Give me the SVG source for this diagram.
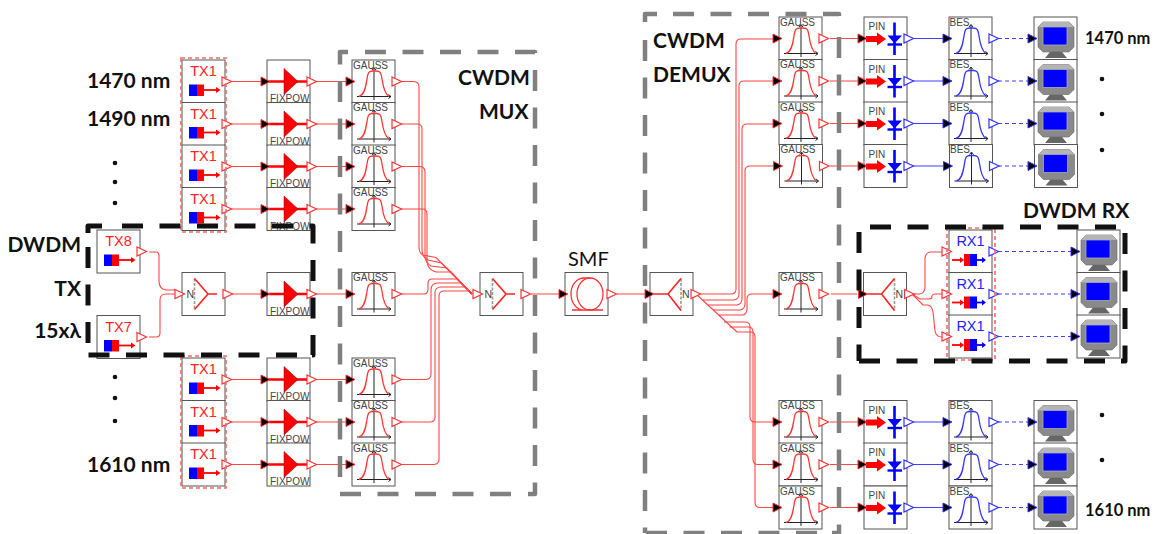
<svg xmlns="http://www.w3.org/2000/svg" width="1161" height="534" viewBox="0 0 1161 534">
<style>
.lbl{font-family:"Lato","Open Sans",sans-serif;font-weight:700;fill:#111}
.box{fill:#fff;stroke:#555;stroke-width:1}
.sm{font-family:"Liberation Sans",Arial,sans-serif;font-size:10px;fill:#444}
.big{font-family:"Liberation Sans",Arial,sans-serif;font-size:14.5px;text-anchor:middle}
.r{fill:#f22}.b{fill:#22f}
.lr{fill:none;stroke:#ff4545;stroke-width:1.1}
.lb{fill:none;stroke:#4040ff;stroke-width:1.1}
.ld{fill:none;stroke:#4040ff;stroke-width:1.1;stroke-dasharray:4 3}
.fg{fill:none;stroke:#808080;stroke-width:4.5;stroke-dasharray:21 16.5;stroke-linejoin:round}
.fk{fill:none;stroke:#111;stroke-width:5;stroke-dasharray:21 16.5;stroke-linejoin:round}
.fp{fill:none;stroke:#f66;stroke-width:1.6;stroke-dasharray:4 3}
.pw{fill:#fff;stroke:#f33;stroke-width:1.2}
.pwb{fill:#fff;stroke:#33f;stroke-width:1.2}
.pk{fill:#000;stroke:#f33;stroke-width:1}
.pkb{fill:#000;stroke:#33f;stroke-width:1}
.gr{fill:none;stroke:#f33;stroke-width:1.3}
.gb{fill:none;stroke:#33f;stroke-width:1.3}
.ax{fill:none;stroke:#222;stroke-width:1}
</style>
<defs>
<path id="pout" d="M0-4.5L9.5 0L0 4.5Z"/>
<path id="pin" d="M0-4.5L9 0L0 4.5Z"/>
<g id="axes"><path class="ax" d="M5 36.5H39M36.5 34.5L39 36.5L36.5 38.5M22 8V40M20 10L22 7.5L24 10"/></g>
<g id="tx"><rect class="box" width="43" height="43"/><rect x="7" y="24.5" width="8" height="11.5" fill="#00f"/><rect x="15" y="24.5" width="7" height="11.5" fill="#f00"/><path d="M22 30H35" stroke="#f00" stroke-width="1.8"/><path d="M34 27L38.5 30L34 33Z" fill="#f00"/><use href="#pout" class="pw" x="40" y="21.5"/></g>
<g id="fix"><rect class="box" width="43" height="43"/><path d="M2 21.5H42" stroke="#f00" stroke-width="2.6"/><path d="M17 8.5L31 21.5L17 34.5Z" fill="#f00" stroke="#700" stroke-width=".5"/><use href="#pin" class="pk" x="-6" y="21.5"/><use href="#pout" class="pw" x="40" y="21.5"/></g>
<g id="gauss"><rect class="box" width="43" height="43"/><use href="#axes"/><path class="gr" d="M7 36.5C13 35 14 25 15 19C16 12 17 11 21 11H24C28 11 29 12 30 19C31 26 33 34 37 36.5"/><use href="#pin" class="pk" x="-6" y="21.5"/><use href="#pout" class="pw" x="40" y="21.5"/></g>
<g id="bes"><rect class="box" width="43" height="43"/><use href="#axes"/><path class="gb" d="M7 36.5C13 35 14 25 15 19C16 12 17 11 21 11H24C28 11 29 12 30 19C31 26 33 34 37 36.5"/><use href="#pin" class="pkb" x="-6" y="21.5"/><use href="#pout" class="pwb" x="40" y="21.5"/></g>
<g id="comb"><rect class="box" width="43" height="43"/><path d="M12.5 6V37" stroke="#999" stroke-width="1.6" stroke-dasharray="3 1.5"/><path d="M12.5 6L26 21.5L12.5 37M26 21.5H35" fill="none" stroke="#f22" stroke-width="1.6"/><use href="#pout" class="pw" x="-7" y="21.5"/><use href="#pout" class="pw" x="41" y="21.5"/></g>
<g id="split"><rect class="box" width="43" height="43"/><path d="M31 6V38" stroke="#999" stroke-width="1.6" stroke-dasharray="3 1.5"/><path d="M4 21.5H18M31 6L18 21.5L31 38" fill="none" stroke="#f22" stroke-width="1.6"/><use href="#pin" class="pk" x="-5" y="21.5"/><use href="#pout" class="pw" x="41" y="21.5"/></g>
<g id="pind"><rect class="box" width="43" height="43"/><path d="M2 19H13V15.5L22 22L13 28.5V25H2Z" fill="#f00"/><path d="M30.5 5.5V38" stroke="#00f" stroke-width="2.6"/><path d="M23.5 18.5H38L30.5 26.5Z" fill="#00f"/><path d="M23.5 27.5H38" stroke="#00f" stroke-width="2.4"/><use href="#pin" class="pk" x="-6" y="21.5"/><use href="#pout" class="pwb" x="40" y="21.5"/></g>
<g id="mon"><rect class="box" width="43" height="43"/><path d="M16 35H28L33 41H11Z" fill="#666"/><path d="M9 5H35L40 10V30L35 35H9L4 30V10Z" fill="#8a8a8a" stroke="#666" stroke-width=".6"/><path d="M9 5H35L40 10H4Z" fill="#b5b5b5"/><rect x="9" y="10" width="24" height="18" fill="#00f" stroke="#aab" stroke-width=".8"/></g>
<g id="rx"><rect class="box" width="43" height="43"/><path d="M3 30H14" stroke="#f00" stroke-width="1.8"/><path d="M11 27L15 30L11 33Z" fill="#f00"/><rect x="15" y="24" width="6" height="12" fill="#f00"/><rect x="21" y="24" width="7" height="12" fill="#00f"/><path d="M28 30H35" stroke="#00f" stroke-width="1.8"/><path d="M33 27L37 30L33 33Z" fill="#00f"/><use href="#pout" class="pw" x="-7" y="21.5"/><use href="#pout" class="pwb" x="40" y="21.5"/></g>
</defs>

<g id="connectors">
<path class="lr" d="M231 81.5H346M231 124H346M231 166.5H346M231 209H346M231 294H261M310 294H346M231 379.5H261M310 379.5H346M231 422H261M310 422H346M231 464.5H261M310 464.5H346"/>
<path class="lr" d="M149 252H156Q159 252 159 256V281Q159 289 166 290H175"/>
<path class="lr" d="M149 337H156Q160 337 160 333V300Q160 294 166 294H175"/>
<path class="lr" d="M401 81.5H414Q419 82 419 87V247Q419 253 423 255L436 257.5L472 294"/>
<path class="lr" d="M401 124H417Q422 124 422 129V250Q422 257 428 260L441.500 263L472 294"/>
<path class="lr" d="M401 166.500H420Q425 167 425 172V256Q425 262 431 266L447 268L472 294"/>
<path class="lr" d="M401 209H422Q427 209 427 214V262Q428 270 436 272H451L472 294"/>
<path class="lr" d="M401 294H424Q428 294 428 289V283Q428 279 432 279H457L472 294"/>
<path class="lr" d="M401 379.5H426Q431 379 431 374V290Q431 283 438 283H461L472 294"/>
<path class="lr" d="M401 422H430Q435 422 435 417V293Q435 287 441 287H465L472 294"/>
<path class="lr" d="M401 464.500H434Q439 464 439 459V296Q439 291 444 291H469L472 294"/>
<path class="lr" d="M531 294H559M617 294H645"/>
<path class="lr" d="M700 294H731Q736 294 736 289V44Q736 39 741 39H773"/>
<path class="lr" d="M703 300H734Q739 299 739 294V86Q739 81 744 81H773"/>
<path class="lr" d="M708 305H737Q742 304 742 299V129Q742 124 747 124H773"/>
<path class="lr" d="M713 310H740Q745 309 745 304V171Q745 166 750 166H773"/>
<path class="lr" d="M696 294L737 332M718 315H743Q747 314 747 309V299Q747 294 752 294H773"/>
<path class="lr" d="M724 322H745Q750 322 750 327V417Q750 422 755 422H773"/>
<path class="lr" d="M729.500 327H748Q753 327 753 332V459Q753 464.500 758 464.500H773"/>
<path class="lr" d="M737 332H751Q755 332 755 337V502Q755 507.500 760 507.500H773"/>
<path class="lr" d="M830 38.500H858M830 81H858M830 123.500H858M830 166H858M831 294H857M830 422H858M830 464.500H858M830 507.500H858"/>
<path class="lb" d="M913 38.500H943M913 81H943M913 123.500H943M913 166H943M913 422H943M913 464.500H943M913 507.500H943"/>
<path class="ld" d="M998 38.500H1028M998 81H1028M998 123.500H1028M998 166H1028M998 422H1028M998 464.500H1028M998 507.500H1028M998 251.500H1071M998 294H1071M998 336.500H1071"/>
<path class="lr" d="M913 294H919Q924 294 925 288V258Q926 252 931 252H942"/>
<path class="lr" d="M912 294L920 299H929Q932 299 932 296Q932 294 936 294H942"/>
<path class="lr" d="M912 294L923 305H928Q932 306 933 312L935 331Q936 337 942 337"/>
</g>

<g id="frames-gray">
<path class="fg" d="M365 52H535V54M535 70V494H528M511 494H340M340 477V52H348"/>
<path class="fg" d="M673 14H839V16M839 37V533H832M817 533H646M645 40V533M645 22V14H657"/>
</g>

<g id="tx-nodes">
<g id="tx1-a" transform="translate(182,60)"><use href="#tx"/><text class="big r" x="21.500" y="16">TX1</text></g>
<g id="tx1-b" transform="translate(182,102.500)"><use href="#tx"/><text class="big r" x="21.500" y="16">TX1</text></g>
<g id="tx1-c" transform="translate(182,145)"><use href="#tx"/><text class="big r" x="21.500" y="16">TX1</text></g>
<g id="tx1-d" transform="translate(182,187.500)"><use href="#tx"/><text class="big r" x="21.500" y="16">TX1</text></g>
<g id="tx8" transform="translate(97,230)"><use href="#tx"/><text class="big r" x="21.500" y="16">TX8</text></g>
<g id="tx7" transform="translate(97,315.500)"><use href="#tx"/><text class="big r" x="21.500" y="16">TX7</text></g>
<g id="tx1-e" transform="translate(182,358)"><use href="#tx"/><text class="big r" x="21.500" y="16">TX1</text></g>
<g id="tx1-f" transform="translate(182,400.500)"><use href="#tx"/><text class="big r" x="21.500" y="16">TX1</text></g>
<g id="tx1-g" transform="translate(182,443)"><use href="#tx"/><text class="big r" x="21.500" y="16">TX1</text></g>
</g>
<g id="fixpow-nodes">
<g id="fix-a" transform="translate(267,60)"><use href="#fix"/><text class="sm" x="3" y="42">FIXPOW</text></g>
<g id="fix-b" transform="translate(267,102.500)"><use href="#fix"/><text class="sm" x="3" y="42">FIXPOW</text></g>
<g id="fix-c" transform="translate(267,145)"><use href="#fix"/><text class="sm" x="3" y="42">FIXPOW</text></g>
<g id="fix-d" transform="translate(267,187.500)"><use href="#fix"/><text class="sm" x="3" y="42">FIXPOW</text></g>
<g id="fix-m" transform="translate(267,272.500)"><use href="#fix"/><text class="sm" x="3" y="42">FIXPOW</text></g>
<g id="fix-e" transform="translate(267,358)"><use href="#fix"/><text class="sm" x="3" y="42">FIXPOW</text></g>
<g id="fix-f" transform="translate(267,400.500)"><use href="#fix"/><text class="sm" x="3" y="42">FIXPOW</text></g>
<g id="fix-g" transform="translate(267,443)"><use href="#fix"/><text class="sm" x="3" y="42">FIXPOW</text></g>
</g>
<g id="gauss-mux">
<g id="gm-a" transform="translate(352,60)"><use href="#gauss"/><text class="sm" x="1" y="8.500">GAUSS</text></g>
<g id="gm-b" transform="translate(352,102.500)"><use href="#gauss"/><text class="sm" x="1" y="8.500">GAUSS</text></g>
<g id="gm-c" transform="translate(352,145)"><use href="#gauss"/><text class="sm" x="1" y="8.500">GAUSS</text></g>
<g id="gm-d" transform="translate(352,187.500)"><use href="#gauss"/><text class="sm" x="1" y="8.500">GAUSS</text></g>
<g id="gm-m" transform="translate(352,272.500)"><use href="#gauss"/><text class="sm" x="1" y="8.500">GAUSS</text></g>
<g id="gm-e" transform="translate(352,358)"><use href="#gauss"/><text class="sm" x="1" y="8.500">GAUSS</text></g>
<g id="gm-f" transform="translate(352,400.500)"><use href="#gauss"/><text class="sm" x="1" y="8.500">GAUSS</text></g>
<g id="gm-g" transform="translate(352,443)"><use href="#gauss"/><text class="sm" x="1" y="8.500">GAUSS</text></g>
</g>
<g id="comb-tx" transform="translate(182,272.500)"><use href="#comb"/><text class="sm" x="4.500" y="25.500" style="font-size:10.500px">N</text></g>
<g id="comb-mux" transform="translate(480,272.500)"><use href="#comb"/><text class="sm" x="4.500" y="25.500" style="font-size:10.500px">N</text></g>
<g id="smf" transform="translate(565,272.500)"><rect class="box" width="43" height="43"/><path class="gr" d="M25 5.500H19C12 5.500 6 12 6 21.500C6 31 12 37.500 19 37.500H25M7 37.500H38"/><ellipse class="gr" cx="25" cy="21.500" rx="13" ry="16"/><use href="#pin" class="pk" x="-6" y="21.500"/><use href="#pout" class="pw" x="42" y="21.500"/></g>
<g id="split-demux" transform="translate(650,272.500)"><use href="#split"/><text class="sm" x="32" y="25.500" style="font-size:10.500px">N</text></g>
<g id="split-rx" transform="translate(863.500,272.500)"><use href="#split"/><text class="sm" x="32" y="25.500" style="font-size:10.500px">N</text></g>
<g id="gauss-demux">
<g id="gd-a" transform="translate(779,17)"><use href="#gauss"/><text class="sm" x="1" y="8.500">GAUSS</text></g>
<g id="gd-b" transform="translate(779,59.500)"><use href="#gauss"/><text class="sm" x="1" y="8.500">GAUSS</text></g>
<g id="gd-c" transform="translate(779,102)"><use href="#gauss"/><text class="sm" x="1" y="8.500">GAUSS</text></g>
<g id="gd-d" transform="translate(779.500,144.500)"><use href="#gauss"/><text class="sm" x="1" y="8.500">GAUSS</text></g>
<g id="gd-m" transform="translate(779,272.500)"><use href="#gauss"/><text class="sm" x="1" y="8.500">GAUSS</text></g>
<g id="gd-e" transform="translate(779,400.500)"><use href="#gauss"/><text class="sm" x="1" y="8.500">GAUSS</text></g>
<g id="gd-f" transform="translate(779,443)"><use href="#gauss"/><text class="sm" x="1" y="8.500">GAUSS</text></g>
<g id="gd-g" transform="translate(779,486)"><use href="#gauss"/><text class="sm" x="1" y="8.500">GAUSS</text></g>
</g>
<g id="pin-nodes">
<g id="pin-a" transform="translate(864,17)"><use href="#pind"/><text class="sm" x="4.500" y="13">PIN</text></g>
<g id="pin-b" transform="translate(864,59.500)"><use href="#pind"/><text class="sm" x="4.500" y="13">PIN</text></g>
<g id="pin-c" transform="translate(864,102)"><use href="#pind"/><text class="sm" x="4.500" y="13">PIN</text></g>
<g id="pin-d" transform="translate(864,144.500)"><use href="#pind"/><text class="sm" x="4.500" y="13">PIN</text></g>
<g id="pin-e" transform="translate(864,400.500)"><use href="#pind"/><text class="sm" x="4.500" y="13">PIN</text></g>
<g id="pin-f" transform="translate(864,443)"><use href="#pind"/><text class="sm" x="4.500" y="13">PIN</text></g>
<g id="pin-g" transform="translate(864,486)"><use href="#pind"/><text class="sm" x="4.500" y="13">PIN</text></g>
</g>
<g id="bes-nodes">
<g id="bes-a" transform="translate(949,17)"><use href="#bes"/><text class="sm" x="0.500" y="8.500">BES</text></g>
<g id="bes-b" transform="translate(949,59.500)"><use href="#bes"/><text class="sm" x="0.500" y="8.500">BES</text></g>
<g id="bes-c" transform="translate(949,102)"><use href="#bes"/><text class="sm" x="0.500" y="8.500">BES</text></g>
<g id="bes-d" transform="translate(949.500,144.500)"><use href="#bes"/><text class="sm" x="0.500" y="8.500">BES</text></g>
<g id="bes-e" transform="translate(949,400.500)"><use href="#bes"/><text class="sm" x="0.500" y="8.500">BES</text></g>
<g id="bes-f" transform="translate(949,443)"><use href="#bes"/><text class="sm" x="0.500" y="8.500">BES</text></g>
<g id="bes-g" transform="translate(949,486)"><use href="#bes"/><text class="sm" x="0.500" y="8.500">BES</text></g>
</g>
<g id="rx-nodes">
<g id="rx1-a" transform="translate(949,230)"><use href="#rx"/><text class="big b" x="21.500" y="16">RX1</text></g>
<g id="rx1-b" transform="translate(949,272.500)"><use href="#rx"/><text class="big b" x="21.500" y="16">RX1</text></g>
<g id="rx1-c" transform="translate(949,315)"><use href="#rx"/><text class="big b" x="21.500" y="16">RX1</text></g>
</g>
<g id="monitors">
<use id="mon-a" href="#mon" x="1034" y="17"/><use id="mon-b" href="#mon" x="1034" y="59.500"/><use id="mon-c" href="#mon" x="1034" y="102"/><use id="mon-d" href="#mon" x="1034.500" y="144.500"/>
<use id="mon-e" href="#mon" x="1034" y="400.500"/><use id="mon-f" href="#mon" x="1034" y="443"/><use id="mon-g" href="#mon" x="1034" y="486"/>
<use id="mon-x" href="#mon" x="1077" y="230"/><use id="mon-y" href="#mon" x="1077" y="272.500"/><use id="mon-z" href="#mon" x="1077" y="315"/>
<g class="pkb"><use href="#pin" x="1028" y="38.500"/><use href="#pin" x="1028" y="81"/><use href="#pin" x="1028" y="123.500"/><use href="#pin" x="1028" y="166"/><use href="#pin" x="1028" y="422"/><use href="#pin" x="1028" y="464.500"/><use href="#pin" x="1028" y="507.500"/><use href="#pin" x="1071" y="251.500"/><use href="#pin" x="1071" y="294"/><use href="#pin" x="1071" y="336.500"/></g>
</g>

<g id="frames-top">
<path class="fp" d="M181 58H226V232H181Z"/>
<path class="fp" d="M181 356H226V488H181Z"/>
<path class="fp" d="M947 228H995V360H947Z"/>
<path class="fk" d="M122 226H313V355H311M297 355H88M88 343V234M88 233V226H105"/>
<path class="fk" d="M870 227H1125M1125 233V361H1121M859 361H1120M859 232V361"/>
</g>

<g id="labels">
<text class="lbl" x="87" y="88" font-size="21">1470 nm</text>
<text class="lbl" x="87" y="126" font-size="21">1490 nm</text>
<text class="lbl" x="87" y="472" font-size="21">1610 nm</text>
<text class="lbl" x="81" y="252" font-size="21" text-anchor="end">DWDM</text>
<text class="lbl" x="81" y="296" font-size="21" text-anchor="end">TX</text>
<text class="lbl" x="81" y="338" font-size="21" text-anchor="end">15xλ</text>
<text class="lbl" x="458" y="85" font-size="21">CWDM</text>
<text class="lbl" x="479" y="119" font-size="21">MUX</text>
<text class="lbl" x="653" y="48" font-size="21">CWDM</text>
<text class="lbl" x="653" y="82" font-size="21">DEMUX</text>
<text x="568" y="266" font-size="20" font-family="Lato,sans-serif" fill="#111">SMF</text>
<text class="lbl" x="1085" y="44" font-size="16.500">1470 nm</text>
<text class="lbl" x="1085" y="516" font-size="16.500">1610 nm</text>
<text class="lbl" x="1023" y="218" font-size="21">DWDM RX</text>
<g fill="#111"><circle cx="115" cy="163" r="2.300"/><circle cx="115" cy="182" r="2.300"/><circle cx="115" cy="203" r="2.300"/><circle cx="115" cy="377" r="2.300"/><circle cx="115" cy="398" r="2.300"/><circle cx="115" cy="421" r="2.300"/><circle cx="1102" cy="79" r="2.300"/><circle cx="1102" cy="114" r="2.300"/><circle cx="1102" cy="150" r="2.300"/><circle cx="1102" cy="415" r="2.300"/><circle cx="1102" cy="460" r="2.300"/></g>
</g>
</svg>
